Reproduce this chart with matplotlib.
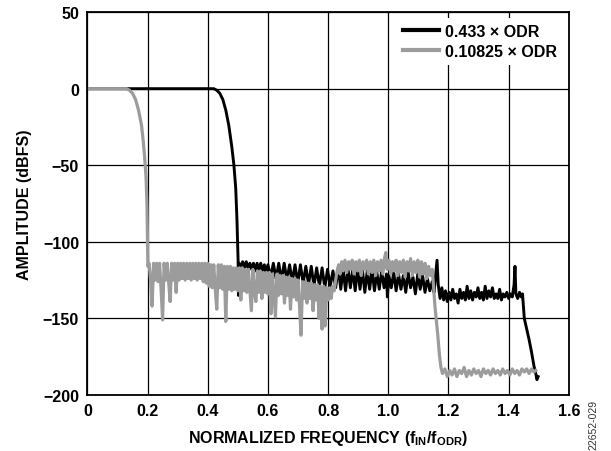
import matplotlib
matplotlib.use("Agg")
import matplotlib.pyplot as plt

# 0.433 x ODR filter response (black trace)
black_freq = [
    0.0, 0.42, 0.43, 0.44, 0.45, 0.46, 0.47, 0.48, 0.487, 0.493, 0.497, 0.5, 0.501,
    0.502, 0.504, 0.510, 0.516, 0.522, 0.528, 0.534, 0.540, 0.546, 0.552, 0.558,
    0.564, 0.570, 0.576, 0.582, 0.588, 0.594, 0.600, 0.609, 0.618, 0.627, 0.636,
    0.645, 0.654, 0.663, 0.672, 0.681, 0.690, 0.699, 0.708, 0.717, 0.726, 0.735,
    0.744, 0.753, 0.762, 0.771, 0.780, 0.789, 0.798, 0.807, 0.816, 0.825, 0.834,
    0.842, 0.850, 0.858, 0.866, 0.874, 0.882, 0.890, 0.898, 0.906, 0.914, 0.922,
    0.930, 0.938, 0.946, 0.954, 0.962, 0.970, 0.978, 0.986, 0.994, 0.997, 1.002,
    1.010, 1.018, 1.026, 1.034, 1.042, 1.050, 1.058, 1.066, 1.074, 1.082, 1.090,
    1.098, 1.106, 1.114, 1.122, 1.130, 1.138, 1.146, 1.152, 1.158, 1.162, 1.166,
    1.172, 1.178, 1.184, 1.190, 1.196, 1.202, 1.208, 1.214, 1.220, 1.226, 1.232,
    1.238, 1.244, 1.250, 1.256, 1.262, 1.268, 1.274, 1.280, 1.286, 1.292, 1.298,
    1.304, 1.310, 1.316, 1.322, 1.328, 1.334, 1.340, 1.346, 1.352, 1.358, 1.364,
    1.370, 1.376, 1.382, 1.388, 1.394, 1.400, 1.406, 1.412, 1.418, 1.421, 1.424,
    1.430, 1.436, 1.442, 1.446, 1.452, 1.460, 1.468, 1.476, 1.484, 1.490, 1.494,
    1.498,
]
black_amp = [
    0, 0, -1, -3, -7, -14, -24, -38, -50, -65, -85, -105, -113,
    -135, -114, -116, -113, -117, -113, -117, -114, -118, -114, -119,
    -114, -119, -114, -120, -115, -120, -115, -123, -114, -124, -114,
    -125, -114, -125, -115, -126, -115, -127, -115, -127, -116, -128,
    -116, -129, -117, -129, -117, -130, -118, -129, -119, -130, -117,
    -131, -118, -132, -117, -130, -118, -132, -117, -131, -118, -133,
    -119, -131, -118, -132, -120, -131, -119, -130, -121, -136, -122,
    -130, -120, -132, -121, -131, -122, -133, -120, -130, -123, -134,
    -121, -131, -122, -133, -124, -132, -126, -133, -120, -112, -128,
    -137, -130, -138, -132, -139, -133, -138, -131, -137, -134, -140,
    -131, -137, -133, -138, -129, -137, -132, -138, -133, -136, -130,
    -137, -133, -138, -129, -137, -132, -136, -130, -137, -134, -137,
    -131, -138, -134, -136, -133, -137, -134, -136, -128, -116, -134,
    -137, -133, -136, -134, -150, -157, -164, -172, -181, -186, -190,
    -188,
]

# 0.10825 x ODR filter response (gray trace)
gray_freq = [
    0.0, 0.13, 0.14, 0.15, 0.16, 0.17, 0.18, 0.185, 0.19, 0.195, 0.198, 0.2, 0.201,
    0.205, 0.210, 0.215, 0.220, 0.225, 0.230, 0.235, 0.240, 0.245, 0.250, 0.255,
    0.260, 0.265, 0.270, 0.275, 0.280, 0.285, 0.290, 0.295, 0.300, 0.305, 0.310,
    0.315, 0.320, 0.325, 0.330, 0.335, 0.340, 0.345, 0.350, 0.355, 0.360, 0.365,
    0.370, 0.375, 0.380, 0.385, 0.390, 0.395, 0.400, 0.405, 0.410, 0.415, 0.420,
    0.425, 0.430, 0.435, 0.440, 0.445, 0.450, 0.455, 0.460, 0.465, 0.470, 0.475,
    0.480, 0.485, 0.490, 0.495, 0.500, 0.505, 0.510, 0.515, 0.520, 0.525, 0.530,
    0.535, 0.540, 0.545, 0.550, 0.555, 0.560, 0.565, 0.570, 0.575, 0.580, 0.585,
    0.590, 0.595, 0.600, 0.605, 0.610, 0.615, 0.620, 0.625, 0.630, 0.635, 0.640,
    0.645, 0.650, 0.655, 0.660, 0.665, 0.670, 0.675, 0.680, 0.685, 0.690, 0.695,
    0.700, 0.705, 0.710, 0.715, 0.720, 0.725, 0.730, 0.735, 0.740, 0.745, 0.750,
    0.755, 0.760, 0.765, 0.770, 0.775, 0.780, 0.785, 0.790, 0.795, 0.800, 0.805,
    0.810, 0.815, 0.820, 0.825, 0.830, 0.835, 0.840, 0.845, 0.850,
    0.856, 0.862, 0.868, 0.874, 0.880, 0.886, 0.892, 0.898, 0.904, 0.910, 0.916,
    0.922, 0.928, 0.934, 0.940, 0.946, 0.952, 0.958, 0.964, 0.970, 0.976, 0.982,
    0.988, 0.992, 0.996, 1.002, 1.008, 1.014, 1.020, 1.026, 1.032, 1.038, 1.044,
    1.050, 1.056, 1.062, 1.068, 1.074, 1.080, 1.086, 1.092, 1.098, 1.104, 1.110,
    1.116, 1.122, 1.128, 1.134, 1.140, 1.146, 1.150, 1.155, 1.160, 1.165, 1.170,
    1.175, 1.180,
    1.188, 1.196, 1.204, 1.212, 1.220, 1.228, 1.236, 1.244, 1.252, 1.260, 1.268,
    1.276, 1.284, 1.292, 1.300, 1.308, 1.316, 1.324, 1.332, 1.340, 1.348, 1.356,
    1.364, 1.372, 1.380, 1.388, 1.396, 1.404, 1.412, 1.420, 1.428, 1.436, 1.444,
    1.452, 1.460, 1.468, 1.476, 1.484, 1.490,
]
gray_amp = [
    0, 0, -1, -3, -7, -14, -24, -33, -44, -58, -75, -100, -116,
    -114, -125, -142, -114, -125, -114, -126, -114, -131, -151, -114,
    -125, -114, -126, -139, -114, -125, -114, -133, -114, -125, -114,
    -124, -114, -125, -114, -124, -114, -125, -114, -124, -114, -125,
    -114, -124, -114, -126, -114, -127, -114, -129, -115, -130, -115,
    -131, -144, -115, -130, -115, -131, -116, -152, -116, -131, -116,
    -132, -117, -131, -117, -132, -117, -138, -117, -132, -118, -133,
    -118, -132, -145, -118, -133, -139, -119, -133, -119, -137, -120,
    -133, -120, -134, -120, -147, -121, -134, -149, -121, -135, -122,
    -134, -122, -140, -123, -135, -123, -144, -124, -136, -124, -138,
    -125, -142, -161, -126, -137, -126, -140, -127, -137, -127, -145,
    -128, -138, -128, -150, -129, -157, -129, -155, -130, -138, -130,
    -137, -129, -132, -125, -119, -115, -121, -113, -119,
    -112, -120, -113, -118, -112, -121, -113, -119, -112, -122, -113,
    -118, -112, -121, -113, -120, -112, -122, -113, -119, -112, -121,
    -110, -107, -118, -112, -121, -113, -119, -112, -122, -113, -120,
    -112, -123, -113, -119, -111, -122, -113, -120, -112, -123, -113,
    -121, -114, -124, -116, -122, -118, -128, -142, -152, -162, -174,
    -182, -186,
    -183, -188, -184, -187, -183, -188, -184, -186, -182, -188, -184,
    -187, -183, -186, -184, -188, -183, -186, -184, -187, -183, -186,
    -184, -187, -183, -186, -184, -187, -183, -186, -184, -187, -183,
    -185, -183, -186, -183, -185, -184,
]

x_ticks = [0, 0.2, 0.4, 0.6, 0.8, 1.0, 1.2, 1.4, 1.6]
x_tick_labels = ["0", "0.2", "0.4", "0.6", "0.8", "1.0", "1.2", "1.4", "1.6"]
y_ticks = [-200, -150, -100, -50, 0, 50]

plt.rcParams["font.family"] = ["Liberation Sans", "DejaVu Sans"]
plt.rcParams["font.weight"] = "bold"
plt.rcParams["mathtext.fontset"] = "custom"
plt.rcParams["mathtext.rm"] = "Liberation Sans:bold"
plt.rcParams["mathtext.bf"] = "Liberation Sans:bold"
plt.rcParams["mathtext.default"] = "bf"

fig = plt.figure(figsize=(6.11, 4.52), dpi=100)
ax = fig.add_axes([0.143, 0.124, 0.788, 0.847])

ax.plot(black_freq, black_amp, color="black", lw=2.1, label="0.433 \u00d7 ODR",
        solid_joinstyle="round")
ax.plot(gray_freq, gray_amp, color="#9c9c9c", lw=2.3, label="0.10825 \u00d7 ODR",
        solid_joinstyle="round")

ax.set_xlim(0, 1.6)
ax.set_ylim(-200, 50)
ax.set_xticks(x_ticks)
ax.set_xticklabels(x_tick_labels)
ax.set_yticks(y_ticks)
ax.tick_params(length=0, labelsize=11.5, pad=6)
ax.grid(True, color="black", lw=0.9)
ax.set_axisbelow(True)
for sp in ax.spines.values():
    sp.set_linewidth(1.3)

ax.set_xlabel("NORMALIZED FREQUENCY (f$_{IN}$/f$_{ODR}$)", fontsize=11.5,
              fontweight="bold", labelpad=7)
ax.set_ylabel("AMPLITUDE (dBFS)", fontsize=11.5, fontweight="bold", labelpad=8)

leg = ax.legend(loc="upper right", fontsize=11.5, frameon=True, fancybox=False,
                edgecolor="none", facecolor="white", framealpha=1,
                handlelength=2.25, handletextpad=0.37, labelspacing=0.28,
                borderaxespad=0.35, borderpad=0.4)
for line in leg.get_lines():
    line.set_linewidth(3.0)

fig.text(0.971, 0.06, "22652-029", rotation=90, fontsize=7.5,
         fontweight="normal", ha="center", va="center", color="#333333")

fig.savefig("out.png", dpi=100)
